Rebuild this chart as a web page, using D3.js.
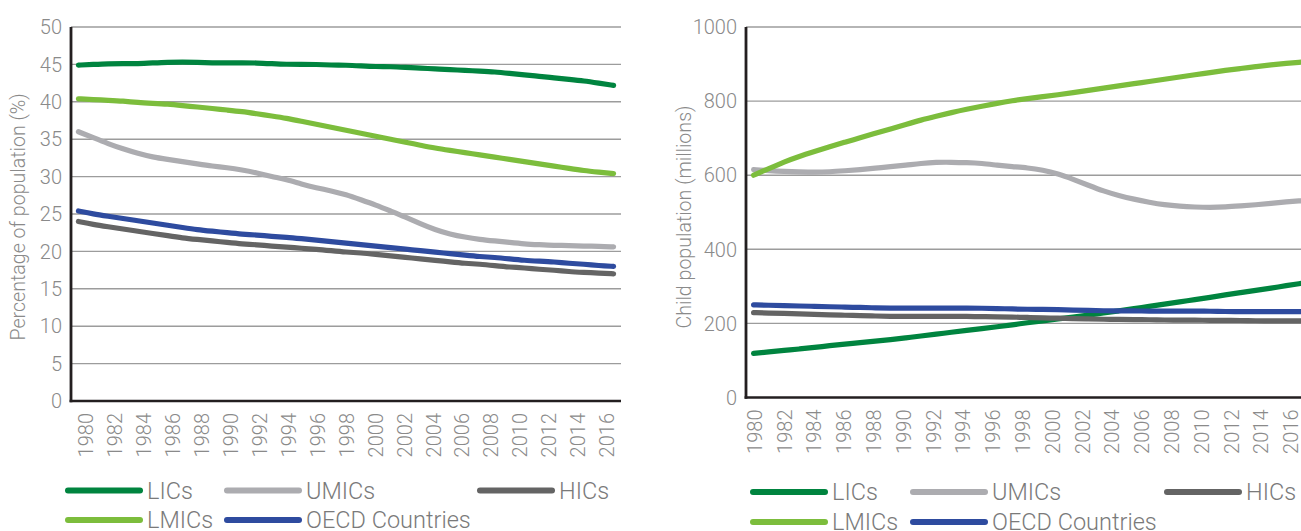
<!DOCTYPE html>
<html><head><meta charset="utf-8">
<script src="https://cdn.jsdelivr.net/npm/d3@7"></script>
<style>
body{margin:0;background:#fff;overflow:hidden}
text{font-family:Roboto,"Noto Sans",sans-serif;font-weight:300}
</style>
</head><body>
<svg id="c" width="1301" height="531"></svg>
<script>
const years = [1980,1981,1982,1983,1984,1985,1986,1987,1988,1989,1990,1991,1992,1993,1994,1995,1996,1997,1998,1999,2000,2001,2002,2003,2004,2005,2006,2007,2008,2009,2010,2011,2012,2013,2014,2015,2016];
const yearLabels = [1980,1982,1984,1986,1988,1990,1992,1994,1996,1998,2000,2002,2004,2006,2008,2010,2012,2014,2016];
const seriesNames = ["LICs","UMICs","HICs","LMICs","OECD Countries"];
const seriesColors = ["#00843f","#acacb0","#646464","#7cbd3c","#2e4b9f"];

// Left chart: percentage of population (%)
const pctTicks = [0,5,10,15,20,25,30,35,40,45,50];
const pctLICs  = [44.9,45.0,45.1,45.1,45.1,45.2,45.3,45.3,45.3,45.2,45.2,45.2,45.2,45.1,45.0,45.0,45.0,44.9,44.9,44.8,44.7,44.7,44.6,44.5,44.4,44.3,44.2,44.1,44.0,43.8,43.6,43.4,43.2,43.0,42.8,42.5,42.2];
const pctUMICs = [36.0,35.2,34.4,33.7,33.1,32.6,32.3,32.0,31.7,31.4,31.2,30.9,30.5,30.0,29.6,29.0,28.5,28.1,27.6,26.9,26.2,25.4,24.6,23.7,22.9,22.3,21.9,21.6,21.4,21.2,21.0,20.9,20.8,20.8,20.7,20.7,20.6];
const pctHICs  = [24.0,23.6,23.3,23.0,22.7,22.4,22.1,21.8,21.6,21.4,21.2,21.0,20.9,20.7,20.6,20.4,20.3,20.1,19.9,19.8,19.6,19.4,19.2,19.0,18.8,18.6,18.4,18.3,18.1,17.9,17.8,17.6,17.5,17.3,17.2,17.1,17.0];
const pctLMICs = [40.4,40.3,40.2,40.1,39.9,39.8,39.7,39.5,39.3,39.1,38.9,38.7,38.4,38.1,37.8,37.4,37.0,36.6,36.2,35.8,35.4,35.0,34.6,34.2,33.8,33.5,33.2,32.9,32.6,32.3,32.0,31.7,31.4,31.1,30.8,30.6,30.4];
const pctOECD  = [25.4,25.0,24.7,24.4,24.1,23.8,23.5,23.2,22.9,22.7,22.5,22.3,22.2,22.0,21.9,21.7,21.5,21.3,21.1,20.9,20.7,20.5,20.3,20.1,19.9,19.7,19.5,19.3,19.2,19.0,18.8,18.7,18.6,18.4,18.3,18.1,18.0];

// Right chart: child population (millions)
const popTicks = [0,200,400,600,800,1000];
const popLICs  = [119,123,127,131,135,140,144,148,152,156,161,166,171,176,181,186,191,196,202,207,212,217,222,228,234,240,246,252,258,264,270,277,283,289,295,302,308];
const popUMICs = [615,612,610,609,608,609,612,615,619,623,627,632,635,635,634,632,627,623,620,614,604,589,573,557,545,535,527,520,516,514,513,514,517,520,524,528,531];
const popHICs  = [229,228,227,226,224,223,222,221,220,219,219,219,219,219,219,218,218,217,216,215,214,213,212,211,211,210,210,209,209,209,208,208,208,207,207,207,207];
const popLMICs = [600,618,636,651,664,677,689,701,713,725,737,749,759,769,778,786,794,801,807,812,817,823,829,835,841,847,853,859,865,871,877,883,888,893,898,902,905];
const popOECD  = [250,249,248,247,246,245,244,243,242,241,241,241,241,241,241,241,240,239,238,238,237,236,235,234,234,234,233,233,233,233,233,232,232,232,232,232,232];

const svg = d3.select("#c");
const tickColor = "#8a8a8a";

function drawChart(cfg){
  const g = svg.append("g");
  const x = d3.scaleBand().domain(years).range([cfg.left, cfg.right]);
  const xc = d => x(d) + x.bandwidth()/2;
  const xl = d3.scalePoint().domain(yearLabels).range([cfg.labelLeft, cfg.labelRight]);
  const y = d3.scaleLinear().domain([0, cfg.ticks[cfg.ticks.length-1]]).range([cfg.bottom, cfg.top]);

  // grid
  g.append("g").selectAll("line").data(cfg.ticks.slice(1)).join("line")
    .attr("x1", cfg.left).attr("x2", cfg.right)
    .attr("y1", d=>y(d)).attr("y2", d=>y(d))
    .attr("stroke", "#9c9c9c").attr("stroke-width", 1.4);

  // y tick labels
  g.append("g").selectAll("text").data(cfg.ticks).join("text")
    .attr("x", cfg.left - 9).attr("y", d=>y(d)).attr("dy", "0.36em")
    .attr("text-anchor", "end").attr("fill", tickColor).attr("font-size", 20)
    .text(d=>d);

  // x tick labels (rotated)
  g.append("g").selectAll("text").data(yearLabels).join("text")
    .attr("transform", d=>`translate(${xl(d)},${cfg.bottom+12}) rotate(-90)`)
    .attr("dy", "0.36em").attr("text-anchor", "end")
    .attr("fill", tickColor).attr("font-size", 20)
    .text(d=>d);

  // y title
  g.append("text")
    .attr("transform", `translate(${cfg.titleX},${cfg.titleY}) rotate(-90)`)
    .attr("text-anchor","middle").attr("dy","0.36em")
    .attr("fill", tickColor).attr("font-size", 19.6)
    .text(cfg.title);

  // lines
  const line = d3.line().x((d,i)=>xc(years[i])).y(d=>y(d)).curve(d3.curveBasis);
  cfg.series.forEach((s,i)=>{
    g.append("path").attr("d", line(s)).attr("fill","none")
      .attr("stroke", seriesColors[i]).attr("stroke-width", 5.2)
      .attr("stroke-linecap","round").attr("stroke-linejoin","round");
  });

  // axes
  g.append("line").attr("x1", cfg.left).attr("x2", cfg.left)
    .attr("y1", cfg.top).attr("y2", cfg.bottom+1.2)
    .attr("stroke","#231f20").attr("stroke-width",2.8);
  g.append("line").attr("x1", cfg.left-1.4).attr("x2", cfg.right)
    .attr("y1", cfg.bottom).attr("y2", cfg.bottom)
    .attr("stroke","#231f20").attr("stroke-width",2.6);

  // legend
  cfg.legendPos.forEach((p,i)=>{
    const lg = g.append("g").attr("transform",`translate(${p[0]},${p[1]})`);
    lg.append("line").attr("x1",0).attr("x2",72).attr("y1",0).attr("y2",0)
      .attr("stroke", seriesColors[i]).attr("stroke-width",6).attr("stroke-linecap","round");
    lg.append("text").attr("x",79).attr("y",0).attr("dy","0.36em")
      .attr("fill","#7a7a7a").attr("font-size",23.5).text(seriesNames[i]);
  });
}

drawChart({
  left:71, right:621, top:27, bottom:401,
  labelLeft:86, labelRight:607, titleX:18, titleY:217,
  ticks:pctTicks, title:"Percentage of population (%)",
  series:[pctLICs,pctUMICs,pctHICs,pctLMICs,pctOECD],
  legendPos:[[68,490.5],[227,490.5],[480,490.5],[68,520],[227,520]]
});
drawChart({
  left:746, right:1309, top:27, bottom:397.5,
  labelLeft:754.5, labelRight:1291, titleX:684, titleY:217,
  ticks:popTicks, title:"Child population (millions)",
  series:[popLICs,popUMICs,popHICs,popLMICs,popOECD],
  legendPos:[[753,492],[913,492],[1167,492],[753,522],[913,522]]
});
</script>
</body></html>
